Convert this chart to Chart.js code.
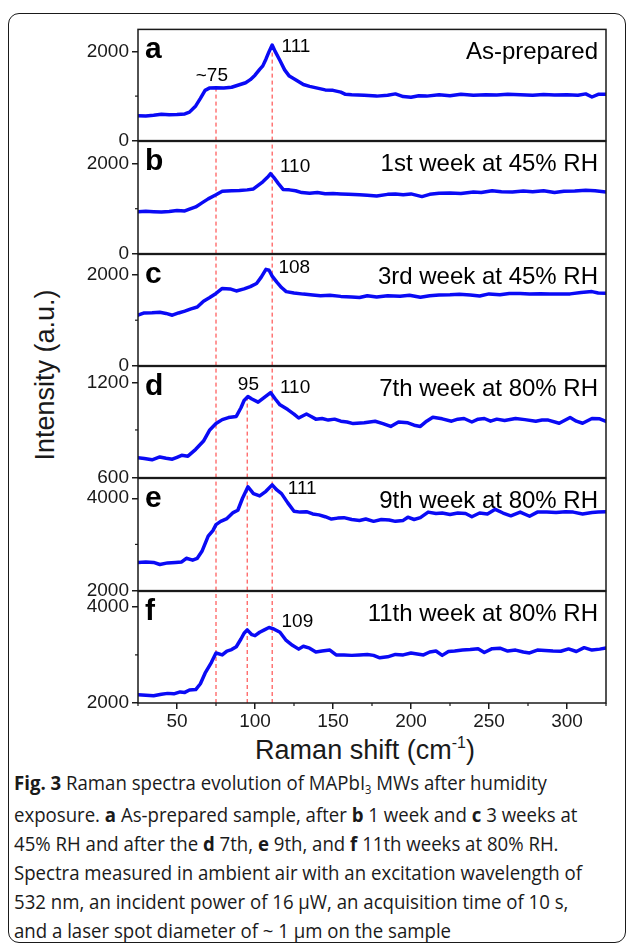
<!DOCTYPE html>
<html>
<head>
<meta charset="utf-8">
<script src="https://cdn.jsdelivr.net/npm/chart.js@4.4.0/dist/chart.umd.min.js"></script>
<style>
body { margin: 0; background: #fff; }
#wrap { position: relative; width: 629px; height: 946px; overflow: hidden; font-family: "Liberation Sans", Arial, sans-serif; color: #1a1a1a; }
#frame { position: absolute; left: 8px; top: 13px; width: 616px; height: 928px; border: 1.5px solid #1a1a1a; border-radius: 11px; }
#wrap canvas { position: absolute; left: 0; }
#ytitle { position: absolute; left: 45px; top: 375px; transform: translate(-50%, -50%) rotate(-90deg); font-size: 27px; white-space: nowrap; }
#xtitle { position: absolute; left: 365px; top: 750px; transform: translate(-50%, -50%); font-size: 27px; white-space: nowrap; }
#xtitle sup { font-size: 16px; position: relative; top: -11px; vertical-align: baseline; }
#caption { position: absolute; left: 14px; top: 768px; font-family: "Open Sans", sans-serif; font-size: 20px; line-height: 29px; color: #1a1a1a; transform-origin: 0 0; }
#caption div { white-space: nowrap; }
#caption sub { font-size: 12px; vertical-align: baseline; position: relative; top: 4px; }
</style>
</head>
<body>
<div id="wrap">
  <div id="frame"></div>
  <div id="ytitle">Intensity (a.u.)</div>
  <div id="xtitle">Raman shift (cm<sup>-1</sup>)</div>
  <div id="caption">
    <div><b>Fig. 3</b> Raman spectra evolution of MAPbI<sub>3</sub> MWs after humidity</div>
    <div>exposure. <b>a</b> As-prepared sample, after <b>b</b> 1 week and <b>c</b> 3 weeks at</div>
    <div>45% RH and after the <b>d</b> 7th, <b>e</b> 9th, and <b>f</b> 11th weeks at 80% RH.</div>
    <div id="capLong">Spectra measured in ambient air with an excitation wavelength of</div>
    <div>532 nm, an incident power of 16 μW, an acquisition time of 10 s,</div>
    <div>and a laser spot diameter of ~ 1 μm on the sample</div>
  </div>
</div>
<script>
// spectra (Raman shift in cm-1, intensity in a.u.)
var xA = [25, 30, 35, 40, 45, 50, 55, 58, 62, 65, 68, 71, 75, 80, 85, 90, 94, 97, 100, 103, 105, 107, 109, 111, 113, 116, 119, 122, 126, 131, 135, 140, 145, 150, 155, 158, 162, 170, 178, 185, 190, 195, 200, 205, 210, 218, 225, 232, 240, 248, 255, 262, 270, 278, 285, 292, 300, 307, 312, 316, 320, 325];
var yA = [560, 555, 570, 590, 580, 585, 600, 640, 780, 950, 1130, 1185, 1190, 1180, 1200, 1255, 1300, 1370, 1470, 1600, 1680, 1830, 2000, 2150, 2000, 1800, 1590, 1450, 1370, 1260, 1220, 1180, 1140, 1130, 1090, 1040, 1030, 1020, 1000, 1020, 1050, 990, 975, 1010, 1000, 1030, 1010, 1040, 1020, 1030, 1025, 1040, 1030, 1020, 1035, 1025, 1030, 1020, 1050, 980, 1040, 1040];

var xB = [25, 30, 35, 40, 45, 50, 55, 58, 62, 66, 70, 75, 79, 85, 90, 95, 99, 102, 105, 108, 110, 112, 115, 118, 122, 126, 130, 135, 140, 145, 150, 155, 160, 167, 172, 178, 185, 190, 195, 200, 207, 212, 218, 225, 232, 240, 245, 252, 258, 265, 272, 278, 285, 292, 298, 305, 312, 318, 325];
var yB = [930, 945, 935, 925, 940, 960, 950, 990, 1040, 1130, 1220, 1310, 1390, 1400, 1405, 1420, 1440, 1520, 1600, 1700, 1780, 1700, 1560, 1430, 1420, 1400, 1360, 1345, 1360, 1335, 1340, 1330, 1320, 1310, 1300, 1285, 1320, 1330, 1310, 1330, 1270, 1320, 1345, 1350, 1340, 1370, 1360, 1400, 1380, 1375, 1395, 1380, 1400, 1360, 1390, 1395, 1410, 1400, 1375];

var xC = [25, 29, 34, 39, 43, 47, 51, 55, 59, 63, 67, 71, 75, 79, 84, 88, 93, 97, 101, 104, 107, 109, 111, 114, 117, 120, 125, 131, 137, 142, 148, 155, 162, 167, 172, 178, 185, 193, 199, 206, 212, 218, 225, 231, 238, 244, 250, 257, 263, 270, 276, 283, 289, 296, 302, 309, 316, 320, 325];
var yC = [1110, 1160, 1165, 1175, 1150, 1110, 1160, 1200, 1250, 1290, 1420, 1500, 1590, 1700, 1690, 1645, 1690, 1740, 1810, 1950, 2120, 2100, 1970, 1840, 1720, 1630, 1600, 1575, 1555, 1540, 1550, 1525, 1510, 1500, 1540, 1510, 1540, 1530, 1550, 1505, 1540, 1555, 1560, 1570, 1555, 1535, 1580, 1560, 1590, 1590, 1575, 1585, 1580, 1575, 1580, 1610, 1630, 1600, 1595];

var xD = [25, 29, 34, 39, 43, 47, 50, 53, 57, 62, 67, 71, 75, 79, 83, 88, 91, 93, 95.5, 98, 102, 106, 110, 113, 116, 121, 125, 128, 133, 136, 139, 143, 147, 151, 155, 159, 163, 170, 177, 182, 187, 192, 198, 202, 206, 210, 214, 220, 226, 230, 234, 239, 243, 247, 251, 255, 260, 267, 273, 280, 284, 288, 295, 302, 306, 310, 316, 321, 325];
var yD = [725, 720, 712, 730, 722, 716, 728, 740, 735, 778, 830, 900, 940, 965, 978, 985, 1040, 1085, 1110, 1095, 1075, 1105, 1135, 1095, 1058, 1028, 1000, 975, 1000, 985, 968, 972, 962, 968, 955, 950, 940, 945, 955, 940, 922, 950, 945, 930, 922, 955, 980, 970, 955, 968, 972, 950, 968, 972, 955, 968, 960, 972, 965, 955, 962, 962, 942, 978, 955, 942, 972, 970, 954];

var xE = [25, 30, 35, 39, 44, 49, 53, 56, 60, 63, 66, 70, 73, 75, 78, 82, 86, 89, 92, 95.5, 99, 103, 107, 111, 114, 117, 121, 125, 129, 133, 137, 141, 145, 149, 153, 157, 162, 167, 171, 176, 181, 186, 190, 195, 198, 202, 206, 211, 216, 220, 225, 230, 235, 239, 244, 249, 254, 259, 264, 270, 276, 281, 287, 293, 299, 304, 310, 316, 320, 325];
var yE = [2610, 2620, 2610, 2565, 2600, 2610, 2620, 2700, 2660, 2700, 2850, 3180, 3300, 3430, 3500, 3560, 3690, 3740, 4000, 4250, 4100, 4050, 4150, 4290, 4180, 4100, 3900, 3720, 3700, 3710, 3660, 3640, 3600, 3550, 3570, 3580, 3540, 3520, 3550, 3500, 3540, 3530, 3500, 3520, 3590, 3540, 3580, 3700, 3670, 3680, 3650, 3680, 3670, 3600, 3680, 3660, 3760, 3680, 3620, 3700, 3610, 3700, 3700, 3690, 3710, 3700, 3660, 3690, 3700, 3710];

var xF = [25, 30, 35, 40, 44, 48, 52, 55, 58, 62, 65, 68, 72, 75, 79, 82, 85, 88, 91, 93, 95, 98, 100, 103, 106, 109, 112, 116, 120, 124, 128, 131, 135, 139, 143, 148, 152, 157, 162, 167, 172, 176, 180, 185, 190, 195, 200, 204, 208, 212, 216, 220, 224, 228, 233, 238, 243, 247, 252, 257, 262, 267, 272, 276, 281, 286, 291, 296, 301, 306, 311, 316, 321, 325];
var yF = [2170, 2160, 2150, 2180, 2200, 2190, 2230, 2220, 2270, 2280, 2400, 2620, 2840, 3040, 3000, 3080, 3110, 3170, 3330, 3450, 3520, 3420, 3400, 3470, 3520, 3570, 3540, 3470, 3300, 3200, 3120, 3180, 3140, 3060, 3080, 3100, 3000, 3000, 2990, 3000, 3010, 2990, 2940, 2960, 3010, 3000, 3040, 3020, 3000, 3060, 3080, 2990, 3070, 3080, 3100, 3110, 3130, 3050, 3130, 3140, 3080, 3100, 3060, 3040, 3100, 3090, 3080, 3075, 3125, 3070, 3150, 3100, 3120, 3145];

var seriesX = [xA, xB, xC, xD, xE, xF];
var seriesY = [yA, yB, yC, yD, yE, yF];

var xTicks = [50, 100, 150, 200, 250, 300];
var xMinorTicks = [25, 75, 125, 175, 225, 275, 325];

var panelLetters = ['a', 'b', 'c', 'd', 'e', 'f'];
var panelTitles = ['As-prepared', '1st week at 45% RH', '3rd week at 45% RH', '7th week at 80% RH', '9th week at 80% RH', '11th week at 80% RH'];
var yMins = [0, 0, 0, 600, 2000, 2000];
var yMaxs = [2500, 2500, 2450, 1300, 4430, 4320];
var yLabelTicks = [[0, 2000], [0, 2000], [0, 2000], [600, 1200], [2000, 4000], [2000, 4000]];
var yMinorTicks = [1000, 1000, 1000, 900, 3000, 3000];

// red dashed guides at 75, 95, 111 cm-1; value = where the guide stops at the top
var redLineX = [75, 95, 111];
var redLineTops = [[1190, null, 2150], [2500, null, 2500], [2450, null, 2450], [1300, 1110, 1300], [4430, 4430, 4430], [4320, 4320, 4320]];

// peak annotations (text, left x value, y value)
var peakText = [['~75', '111'], ['110'], ['108'], ['95', '110'], ['111'], ['109']];
var peakX = [[62, 117], [116], [115], [89, 116], [121], [117]];
var peakY = [[1460, 2100], [1940], [2150], [1185, 1167], [4200], [3680]];

var FONT = '"Liberation Sans", Arial, sans-serif';
var INK = '#1a1a1a';
var plotTop = 29, plotBottom = 703, plotRight = 606, yAxisW = 138;
var pad = 14, xAxisH = 32;

function decorPlugin(i) {
    return {
        id: 'decor' + i,
        afterDraw: function(chart) {
            var ctx = chart.ctx;
            var a = chart.chartArea;
            var xs = chart.scales.x, ys = chart.scales.y;
            ctx.save();
            ctx.strokeStyle = INK;
            ctx.lineWidth = 1.5;
            ctx.strokeRect(a.left, a.top, a.right - a.left, a.bottom - a.top);

            // minor ticks
            ctx.lineWidth = 1.2;
            ctx.beginPath();
            var py = ys.getPixelForValue(yMinorTicks[i]);
            ctx.moveTo(a.left - 3, py);
            ctx.lineTo(a.left, py);
            if (i === 5) {
                xMinorTicks.forEach(function(v) {
                    var px = xs.getPixelForValue(v);
                    ctx.moveTo(px, a.bottom);
                    ctx.lineTo(px, a.bottom + 3);
                });
            }
            ctx.stroke();

            ctx.fillStyle = '#000';
            ctx.textBaseline = 'alphabetic';
            ctx.textAlign = 'left';
            ctx.font = 'bold 30px ' + FONT;
            ctx.fillText(panelLetters[i], a.left + 7, a.top + 29);
            ctx.textAlign = 'right';
            ctx.font = '24px ' + FONT;
            ctx.fillText(panelTitles[i], a.right - 8, a.top + 30);

            ctx.textAlign = 'left';
            ctx.textBaseline = 'middle';
            ctx.font = '19px ' + FONT;
            for (var k = 0; k < peakText[i].length; k++) {
                ctx.fillText(peakText[i][k], xs.getPixelForValue(peakX[i][k]), ys.getPixelForValue(peakY[i][k]));
            }
            ctx.restore();
        }
    };
}

var wrap = document.getElementById('wrap');
var tops = [];
for (var t = 0; t <= 6; t++) {
    tops.push(Math.round(plotTop + t * (plotBottom - plotTop) / 6));
}

for (var i = 0; i < 6; i++) {
    var last = (i === 5);
    var h = tops[i + 1] - tops[i];
    var canvas = document.createElement('canvas');
    canvas.width = 629;
    canvas.height = pad + h + (last ? xAxisH : pad);
    canvas.style.top = (tops[i] - pad) + 'px';
    wrap.appendChild(canvas);

    var datasets = [{
        data: seriesX[i].map(function(x, j) { return {x: x, y: seriesY[i][j]}; }),
        borderColor: '#0a0af5',
        borderWidth: 3.5,
        pointRadius: 0,
        tension: 0,
        borderJoinStyle: 'round',
        borderCapStyle: 'round'
    }];
    redLineX.forEach(function(rx, k) {
        var top = redLineTops[i][k];
        if (top === null) return;
        datasets.push({
            data: [{x: rx, y: yMins[i]}, {x: rx, y: top}],
            borderColor: '#ff3030',
            borderWidth: 1,
            borderDash: [4, 3],
            pointRadius: 0
        });
    });

    (function(i, last) {
        new Chart(canvas.getContext('2d'), {
            type: 'line',
            data: {datasets: datasets},
            options: {
                responsive: false,
                animation: false,
                events: [],
                layout: {padding: {left: 0, right: 629 - plotRight, top: pad, bottom: last ? 0 : pad}},
                plugins: {legend: {display: false}, tooltip: {enabled: false}},
                scales: {
                    x: {
                        type: 'linear',
                        min: 25,
                        max: 325,
                        display: last,
                        afterBuildTicks: function(s) { s.ticks = xTicks.map(function(v) { return {value: v}; }); },
                        afterFit: function(s) { if (last) s.height = xAxisH; },
                        border: {display: false},
                        grid: {drawOnChartArea: false, tickLength: 6, color: INK, lineWidth: 1.5},
                        ticks: {color: INK, font: {family: FONT, size: 19}, padding: 1, maxRotation: 0, autoSkip: false,
                            callback: function(v) { return String(v); }}
                    },
                    y: {
                        type: 'linear',
                        min: yMins[i],
                        max: yMaxs[i],
                        afterBuildTicks: function(s) { s.ticks = yLabelTicks[i].map(function(v) { return {value: v}; }); },
                        afterFit: function(s) { s.width = yAxisW; },
                        border: {display: false},
                        grid: {drawOnChartArea: false, tickLength: 6, color: INK, lineWidth: 1.5},
                        ticks: {color: INK, font: {family: FONT, size: 19}, padding: 3,
                            callback: function(v) { return String(v); }}
                    }
                }
            },
            plugins: [decorPlugin(i)]
        });
    })(i, last);
}

// squeeze the caption to the column width of the original
var cap = document.getElementById('caption');
var longLine = document.getElementById('capLong');
var w = longLine.getBoundingClientRect().width;
var k = 568 / w;
cap.style.transform = 'scaleX(' + k + ')';
</script>
</body>
</html>
